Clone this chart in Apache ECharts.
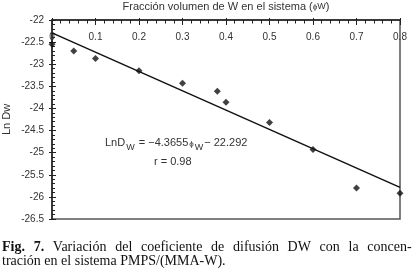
<!DOCTYPE html>
<html>
<head>
<meta charset="utf-8">
<script src="https://cdn.jsdelivr.net/npm/echarts@6/dist/echarts.min.js"></script>
<style>html,body{margin:0;padding:0;background:#fff;}#c{width:419px;height:272px;}</style>
</head>
<body>
<div id="c"></div>
<script>
// Data
var phiW = [0.0, 0.05, 0.1, 0.2, 0.3, 0.38, 0.4, 0.5, 0.6, 0.7, 0.8];
var lnDw = [-22.55, -22.70, -22.87, -23.15, -23.43, -23.61, -23.86, -24.32, -24.93, -25.80, -25.92];
var fitX = [0, 0.8];
var fitY = [-22.292, -25.784];
var xTitle = 'Fracción volumen de W en el sistema (';
var yTitle = 'Ln Dw';
var eqText = ['LnD', 'W', ' = \u22124.3655', '\u03d5', 'W', '\u2212 22.292'];
var rText = 'r = 0.98';
var caption1Words = ['Variación', 'del', 'coeficiente', 'de', 'difusión', 'DW', 'con', 'la', 'concen-'];
var caption2 = 'tración en el sistema PMPS/(MMA-W).';

var pts = phiW.map(function (x, i) { return [x, lnDw[i]]; });
var fit = fitX.map(function (x, i) { return [x, fitY[i]]; });

var chart = echarts.init(document.getElementById('c'), null, { renderer: 'canvas' });
var FF = 'Liberation Sans, Arial, sans-serif';
var SERIF = 'Liberation Serif, Times New Roman, serif';
var lab = { fontFamily: FF, fontSize: 10, color: '#333' };
var axisBase = {
  type: 'value', min: 0, max: 0.8, interval: 0.1, position: 'top',
  splitLine: { show: false }
};
var yBase = {
  type: 'value', min: -26.5, max: -22, interval: 0.5, position: 'left',
  splitLine: { show: false }
};
var capText = '{b|Fig.}{sp| }{b|7.}' + caption1Words.map(function (w) { return '{sp| }{n|' + w + '}'; }).join('');
chart.setOption({
  animation: false,
  backgroundColor: '#fff',
  grid: { left: 52, right: 19, top: 20, bottom: 53, show: true, borderColor: '#555', borderWidth: 1.5,
    containLabel: false, outerBoundsMode: 'none' },
  xAxis: [
    Object.assign({}, axisBase, {
      axisLine: { show: true, onZero: false, lineStyle: { color: '#222', width: 1.5 } },
      axisTick: { show: true, inside: false, length: 2, lineStyle: { color: '#222' } },
      minorTick: { show: false },
      axisLabel: Object.assign({ inside: true, margin: 12, formatter: function (v) { return v === 0 ? '0' : String(+v.toFixed(1)); } }, lab),
      name: xTitle + '{p|\u03d5}{w|W})',
      nameLocation: 'middle', nameGap: 8,
      nameTextStyle: { fontFamily: FF, fontSize: 11, color: '#333',
        rich: { p: { fontSize: 8, color: '#333' }, w: { fontSize: 9, color: '#333' } } }
    }),
    Object.assign({}, axisBase, {
      axisLine: { show: false },
      axisTick: { show: true, inside: true, length: 5, lineStyle: { color: '#222' } },
      minorTick: { show: true, splitNumber: 5, length: 3.5, lineStyle: { color: '#222' } },
      axisLabel: { show: false }
    })
  ],
  yAxis: [
    Object.assign({}, yBase, {
      axisLine: { show: true, onZero: false, lineStyle: { color: '#222', width: 1.5 } },
      axisTick: { show: true, inside: false, length: 3, lineStyle: { color: '#222' } },
      axisLabel: Object.assign({ margin: 8, formatter: function (v) { return '-' + String(Math.abs(v)); } }, lab),
      name: yTitle, nameLocation: 'middle', nameGap: 40, nameRotate: 90, nameMoveOverlap: false,
      nameTextStyle: { fontFamily: FF, fontSize: 11, color: '#333' }
    }),
    Object.assign({}, yBase, {
      axisLine: { show: false },
      axisTick: { show: true, inside: true, length: 4, lineStyle: { color: '#222' } },
      minorTick: { show: true, splitNumber: 5, length: 3, lineStyle: { color: '#222' } },
      axisLabel: { show: false }
    })
  ],
  series: [
    { type: 'line', data: fit, symbol: 'none', clip: false,
      lineStyle: { color: '#111', width: 1.5 }, z: 3 },
    { type: 'scatter', data: pts, symbol: 'diamond', symbolSize: 7, clip: false,
      itemStyle: { color: '#111' }, z: 4 }
  ],
  graphic: [
    { type: 'text', left: 105, top: 137, z: 10,
      style: { text: '{a|' + eqText[0] + '}{s|' + eqText[1] + '}{a|' + eqText[2] + '}{p|' + eqText[3] + '}{s|' + eqText[4] + '}{a|' + eqText[5] + '}',
        rich: {
          a: { fontFamily: FF, fontSize: 11, fill: '#333', verticalAlign: 'bottom' },
          s: { fontFamily: FF, fontSize: 9, fill: '#333', verticalAlign: 'bottom', padding: [0, 1, -4, 1] },
          p: { fontFamily: FF, fontSize: 8, fill: '#333', verticalAlign: 'bottom', padding: [0, 0, 0, 1] }
        } } },
    { type: 'text', left: 154, top: 156, z: 10,
      style: { text: rText, fontFamily: FF, fontSize: 11, fill: '#333' } },
    { type: 'text', left: 2, top: 240, z: 10,
      style: { text: capText,
        rich: {
          b: { fontFamily: SERIF, fontSize: 14, fontWeight: 'bold', fill: '#111' },
          n: { fontFamily: SERIF, fontSize: 14, fill: '#111' },
          sp: { fontFamily: SERIF, fontSize: 14, fill: '#111', width: 8.7 }
        } } },
    { type: 'text', left: 2, top: 254, z: 10,
      style: { text: caption2, fontFamily: SERIF, fontSize: 14, fill: '#111' } }
  ]
});
</script>
</body>
</html>
